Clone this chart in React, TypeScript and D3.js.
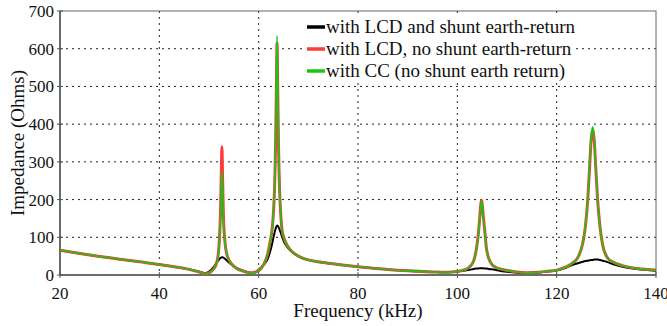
import React from "react";
import * as d3 from "d3";

const freq = [20, 24, 28, 32, 36, 40, 43, 46, 48, 49.3, 50.3, 51.0, 51.6, 52.0, 52.3, 52.45, 52.6, 52.75, 52.9, 53.2, 53.7, 54.5, 55.5, 57, 58.5, 59.5, 60.5, 61.2, 61.8, 62.3, 62.7, 62.95, 63.2, 63.4, 63.55, 63.7, 63.85, 64.0, 64.2, 64.45, 64.7, 65.1, 65.6, 66.3, 67.3, 68.5, 70, 73, 76, 80, 85, 90, 95, 98, 100, 101.5, 102.5, 103.3, 103.85, 104.2, 104.5, 104.7, 104.85, 105.0, 105.2, 105.5, 105.85, 106.3, 106.85, 107.8, 109, 110.5, 112, 114, 116, 118, 120, 122, 123.25, 124.25, 125.25, 125.75, 126.25, 126.65, 126.95, 127.25, 127.55, 127.85, 128.25, 128.75, 129.25, 130.25, 131.25, 133.25, 136.25, 140];

const lcdShunt = [66, 57, 49, 42, 35, 28, 22, 15, 9, 5, 12, 22, 34, 41, 45, 46, 47, 47, 46, 43, 37, 28, 19, 11, 6, 9, 20, 30, 42, 62, 82, 98, 112, 122, 128, 131, 130, 127, 121, 112, 102, 88, 77, 66, 55, 46, 40, 33, 28, 22, 16, 11, 8, 7, 9, 12, 14, 16, 17, 17, 18, 18, 18, 18, 18, 17, 17, 16, 15, 13, 10, 8, 6, 5, 6, 9, 12, 20, 27, 31, 35, 37, 38, 39, 40, 40, 41, 41, 41, 40, 38, 34, 29, 22, 16, 11];

const lcdNoShunt = [66, 57, 49, 42, 35, 28, 22, 15, 8, 3, 8, 17, 35, 75, 160, 250, 340, 250, 160, 90, 50, 30, 18, 10, 5, 8, 18, 33, 55, 88, 120, 160, 230, 340, 480, 615, 480, 340, 230, 160, 120, 98, 82, 68, 56, 47, 40, 33, 28, 22, 16, 11, 8, 7, 9, 14, 22, 38, 70, 105, 150, 185, 198, 190, 160, 120, 72, 45, 30, 20, 15, 11, 8, 6, 7, 10, 13, 22, 32, 46, 84, 125, 198, 290, 360, 385, 360, 290, 198, 125, 80, 45, 35, 25, 17, 13];

const ccNoShunt = [66, 57, 49, 42, 35, 28, 22, 15, 8, 3, 8, 17, 34, 70, 150, 225, 275, 225, 150, 85, 50, 30, 18, 10, 5, 8, 18, 33, 55, 88, 120, 160, 235, 350, 495, 634, 500, 350, 235, 160, 120, 98, 82, 68, 56, 47, 40, 33, 28, 22, 16, 11, 8, 7, 9, 14, 22, 38, 68, 100, 145, 180, 196, 188, 158, 118, 70, 45, 30, 20, 15, 11, 8, 6, 7, 10, 13, 22, 32, 46, 84, 125, 198, 292, 365, 393, 365, 292, 198, 125, 80, 45, 35, 25, 17, 13];

const xTicks = [20, 40, 60, 80, 100, 120, 140];
const yTicks = [0, 100, 200, 300, 400, 500, 600, 700];
const gridX = [40, 60, 80, 100, 120];
const gridY = [100, 200, 300, 400, 500, 600];

const seriesNames = [
  "with LCD and shunt earth-return",
  "with LCD, no shunt earth-return",
  "with CC (no shunt earth return)",
];
const seriesColors = ["#000000", "#ff3c3c", "#14c814"];
const seriesWidths = [2, 3, 1.6];

const W = 667;
const H = 326;
const M = { left: 60, right: 656, top: 11, bottom: 275 };
const TXT = { fontFamily: '"Liberation Serif"' };

export default function App() {
  const x = d3.scaleLinear().domain([20, 140]).range([M.left, M.right]);
  const y = d3.scaleLinear().domain([0, 700]).range([M.bottom, M.top]);
  const line = d3
    .line<number>()
    .x((_, i) => x(freq[i]))
    .y((v) => y(v))
    .curve(d3.curveMonotoneX);
  const data = [lcdShunt, lcdNoShunt, ccNoShunt];

  return (
    <svg width={W} height={H} style={{ position: "absolute", left: 0, top: 0, background: "#fff" }}>
      <rect x={0} y={0} width={W} height={H} fill="#fff" />
      {gridY.map((v) => (
        <line
          key={"gy" + v}
          x1={M.left}
          x2={M.right}
          y1={y(v)}
          y2={y(v)}
          stroke="#222"
          strokeWidth={1}
          strokeDasharray="2,4"
        />
      ))}
      {gridX.map((v) => (
        <line
          key={"gx" + v}
          x1={x(v)}
          x2={x(v)}
          y1={M.top}
          y2={M.bottom}
          stroke="#222"
          strokeWidth={1}
          strokeDasharray="2,4"
        />
      ))}
      <rect
        x={M.left}
        y={M.top}
        width={M.right - M.left}
        height={M.bottom - M.top}
        fill="none"
        stroke="#666"
        strokeWidth={1}
      />
      <line x1={M.left} x2={M.left} y1={M.top} y2={M.bottom} stroke="#555" strokeWidth={1.5} />
      <line x1={M.left} x2={M.right} y1={M.bottom} y2={M.bottom} stroke="#555" strokeWidth={1.5} />
      <rect x={304} y={15} width={272} height={66} fill="#fff" />
      {data.map((d, i) => (
        <path
          key={"s" + i}
          d={line(d) || ""}
          fill="none"
          stroke={seriesColors[i]}
          strokeWidth={seriesWidths[i]}
          strokeLinejoin="round"
        />
      ))}
      {xTicks.map((t) => (
        <g key={"xt" + t}>
          <line x1={x(t)} x2={x(t)} y1={M.bottom - 3} y2={M.bottom + 3} stroke="#555" strokeWidth={1} />
          <text x={x(t)} y={299} fontSize={17} textAnchor="middle" fill="#111" style={TXT}>
            {String(t)}
          </text>
        </g>
      ))}
      {yTicks.map((t) => (
        <g key={"yt" + t}>
          <line x1={M.left - 3} x2={M.left + 3} y1={y(t)} y2={y(t)} stroke="#555" strokeWidth={1} />
          <text x={54} y={y(t) + 6} fontSize={17} textAnchor="end" fill="#111" style={TXT}>
            {String(t)}
          </text>
        </g>
      ))}
      <text x={(M.left + M.right) / 2} y={317} fontSize={19} textAnchor="middle" fill="#111" style={TXT}>
        Frequency (kHz)
      </text>
      <text
        transform={`translate(24,${(M.top + M.bottom) / 2}) rotate(-90)`}
        fontSize={19}
        textAnchor="middle"
        fill="#111"
        style={TXT}
      >
        Impedance (Ohms)
      </text>
      {seriesNames.map((n, i) => (
        <g key={"lg" + i} transform={`translate(307,${27 + i * 22})`}>
          <line x1={0} x2={18} y1={0} y2={0} stroke={seriesColors[i]} strokeWidth={3.5} />
          <text x={19} y={6} fontSize={19} fill="#111" style={TXT}>
            {n}
          </text>
        </g>
      ))}
    </svg>
  );
}
